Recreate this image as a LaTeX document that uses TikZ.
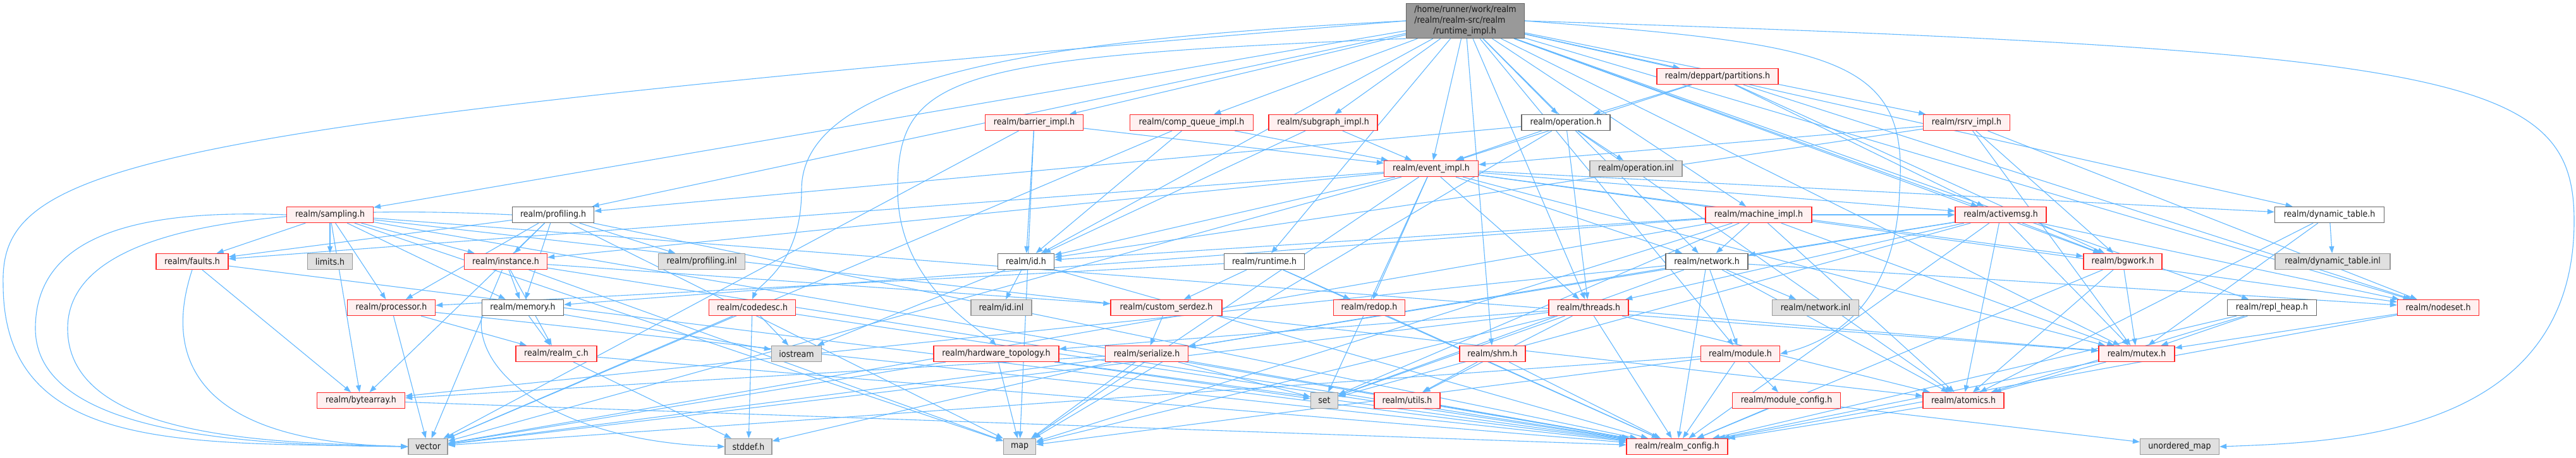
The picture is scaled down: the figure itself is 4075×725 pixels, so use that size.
\documentclass[tikz,border=0pt]{standalone}
\usepackage{fontspec}
\setmainfont{DejaVu Sans}[FakeStretch=0.9]
\usetikzlibrary{arrows.meta,backgrounds}
\definecolor{edgeblue}{RGB}{99,184,255}
\definecolor{redfill}{RGB}{255,240,240}
\definecolor{redline}{RGB}{255,40,40}
\definecolor{grayfill}{RGB}{224,224,224}
\definecolor{grayline}{RGB}{153,153,153}
\definecolor{darkline}{RGB}{102,102,102}
\definecolor{rootfill}{RGB}{153,153,153}
\tikzset{
  box/.style={rectangle, minimum height=25pt, inner sep=2pt, line width=1.3pt,
    font=\fontsize{14}{17}\selectfont, text=black!90},
  redbox/.style={box, draw=redline, fill=redfill},
  graybox/.style={box, draw=grayline, fill=grayfill},
  whitebox/.style={box, draw=darkline, fill=white},
  rootbox/.style={box, draw=darkline, fill=rootfill, align=left, minimum height=55pt},
  edge/.style={draw=edgeblue, line width=1.1pt, -{Triangle[length=11pt,width=8pt]}}
}
\begin{document}
\begin{tikzpicture}[x=1pt,y=-1pt]
\useasboundingbox (0,0) rectangle (4075,725);
% row 0
\node[rootbox, minimum width=187pt] (root) at (2318,33) {/home/runner/work/realm\\/realm/realm-src/realm\\\hspace*{30pt}/runtime\_impl.h};
% row 1
\node[redbox, minimum width=192pt] (partitions) at (2717,121) {realm/deppart/partitions.h};
% row 2
\node[redbox, minimum width=155pt] (barrier) at (1636,194) {realm/barrier\_impl.h};
\node[redbox, minimum width=195pt] (compq) at (1885,194) {realm/comp\_queue\_impl.h};
\node[redbox, minimum width=172pt] (subgraph) at (2093,194) {realm/subgraph\_impl.h};
\node[whitebox, minimum width=140pt] (operation) at (2477,194) {realm/operation.h};
\node[redbox, minimum width=137pt] (rsrv) at (3111,194) {realm/rsrv\_impl.h};
% row 3
\node[redbox, minimum width=149pt] (event) at (2264,267) {realm/event\_impl.h};
\node[graybox, minimum width=146pt] (opinl) at (2588,267) {realm/operation.inl};
% row 4
\node[redbox, minimum width=137pt] (sampling) at (522,340) {realm/sampling.h};
\node[whitebox, minimum width=129pt] (profiling) at (875,340) {realm/profiling.h};
\node[redbox, minimum width=168pt] (machine) at (2782,340) {realm/machine\_impl.h};
\node[redbox, minimum width=144pt] (activemsg) at (3165,340) {realm/activemsg.h};
\node[whitebox, minimum width=173pt] (dyntable) at (3685,340) {realm/dynamic\_table.h};
% row 5
\node[redbox, minimum width=114pt] (faults) at (304,414) {realm/faults.h};
\node[graybox, minimum width=71pt] (limits) at (522,414) {limits.h};
\node[redbox, minimum width=131pt] (instance) at (800,414) {realm/instance.h};
\node[graybox, minimum width=137pt] (profinl) at (1110,414) {realm/profiling.inl};
\node[whitebox, minimum width=89pt] (id) at (1623,414) {realm/id.h};
\node[whitebox, minimum width=127pt] (runtime) at (2000,414) {realm/runtime.h};
\node[whitebox, minimum width=130pt] (network) at (2700,414) {realm/network.h};
\node[redbox, minimum width=124pt] (bgwork) at (3358,414) {realm/bgwork.h};
\node[graybox, minimum width=182pt] (dyninl) at (3690,414) {realm/dynamic\_table.inl};
% row 6
\node[redbox, minimum width=139pt] (processor) at (619,487) {realm/processor.h};
\node[whitebox, minimum width=129pt] (memory) at (827,487) {realm/memory.h};
\node[redbox, minimum width=137pt] (codedesc) at (1190,487) {realm/codedesc.h};
\node[graybox, minimum width=96pt] (idinl) at (1584,487) {realm/id.inl};
\node[redbox, minimum width=176pt] (serdez) at (1845,487) {realm/custom\_serdez.h};
\node[redbox, minimum width=113pt] (redop) at (2166,487) {realm/redop.h};
\node[redbox, minimum width=126pt] (threads) at (2513,487) {realm/threads.h};
\node[graybox, minimum width=137pt] (netinl) at (2872,487) {realm/network.inl};
\node[whitebox, minimum width=141pt] (replheap) at (3594,487) {realm/repl\_heap.h};
\node[redbox, minimum width=129pt] (nodeset) at (3857,487) {realm/nodeset.h};
% row 7
\node[redbox, minimum width=128pt] (realmc) at (880,560) {realm/realm\_c.h};
\node[graybox, minimum width=79pt] (iostream) at (1260,560) {iostream};
\node[redbox, minimum width=198pt] (hwtopo) at (1576,560) {realm/hardware\_topology.h};
\node[redbox, minimum width=131pt] (serialize) at (1814,560) {realm/serialize.h};
\node[redbox, minimum width=104pt] (shm) at (2361,560) {realm/shm.h};
\node[redbox, minimum width=125pt] (module) at (2753,560) {realm/module.h};
\node[redbox, minimum width=120pt] (mutex) at (3380,560) {realm/mutex.h};
% row 8
\node[redbox, minimum width=139pt] (bytearray) at (571,634) {realm/bytearray.h};
\node[graybox, minimum width=43pt] (set) at (2095,634) {set};
\node[redbox, minimum width=104pt] (utils) at (2226,634) {realm/utils.h};
\node[redbox, minimum width=171pt] (modconfig) at (2826,634) {realm/module\_config.h};
\node[redbox, minimum width=128pt] (atomics) at (3106,634) {realm/atomics.h};
% row 9
\node[graybox, minimum width=62pt] (vector) at (677,707) {vector};
\node[graybox, minimum width=74pt] (stddef) at (1184,707) {stddef.h};
\node[graybox, minimum width=51pt] (map) at (1613,707) {map};
\node[redbox, minimum width=160pt] (config) at (2653,707) {realm/realm\_config.h};
\node[graybox, minimum width=125pt] (umap) at (3448,707) {unordered\_map};

\begin{pgfonlayer}{background}
\foreach \a/\b in {
 root/sampling, root/profiling, root/barrier, root/compq, root/subgraph, root/event,
 root/operation, root/partitions, root/rsrv, root/machine, root/activemsg, root/dyntable,
 root/id, root/runtime, root/network, root/threads, root/shm, root/module,
 root/bgwork, root/replheap, root/nodeset, root/mutex,
 sampling/faults, sampling/limits, sampling/processor, sampling/bytearray, sampling/map,
 sampling/atomics, sampling/mutex, sampling/config, sampling/instance, sampling/memory,
 profiling/profinl, profiling/faults, profiling/bytearray, profiling/processor, profiling/memory,
 profiling/instance, profiling/map, profiling/config,
 instance/memory, instance/realmc, instance/vector, instance/map, instance/serdez, instance/config,
 faults/bytearray, faults/config,
 processor/vector, processor/realmc, processor/config,
 memory/realmc, memory/iostream,
 codedesc/iostream, codedesc/stddef, codedesc/vector, codedesc/config,
 realmc/stddef, realmc/config, bytearray/config,
 barrier/event, barrier/id, barrier/vector, barrier/map,
 compq/event, compq/id, compq/vector, subgraph/event, subgraph/id,
 event/id, event/nodeset, event/faults, event/network, event/mutex, event/redop, event/bgwork,
 event/dyntable, event/threads, event/vector, event/map, event/set, event/instance, event/activemsg,
 operation/event, operation/opinl, operation/profiling, operation/threads, operation/atomics, operation/map,
 partitions/operation, partitions/activemsg, partitions/event, partitions/nodeset, partitions/bgwork,
 rsrv/event, rsrv/id, rsrv/nodeset, rsrv/bgwork, rsrv/mutex,
 machine/id, machine/network, machine/activemsg, machine/mutex, machine/atomics, machine/vector,
 machine/map, machine/set, machine/memory,
 activemsg/network, activemsg/nodeset, activemsg/mutex, activemsg/atomics, activemsg/bgwork,
 activemsg/threads, activemsg/config, activemsg/serialize, activemsg/set,
 dyntable/dyninl, dyntable/mutex, dyntable/atomics,
 id/idinl, id/config, id/iostream,
 runtime/serdez, runtime/redop, runtime/processor, runtime/config,
 serdez/serialize,
 serialize/bytearray, serialize/map, serialize/set, serialize/vector, serialize/stddef, serialize/config,
 hwtopo/map, hwtopo/vector, hwtopo/set, hwtopo/config,
 redop/config,
 threads/set, threads/config, threads/atomics, threads/mutex, threads/utils, threads/vector,
 threads/map, threads/hwtopo,
 shm/utils, shm/config,
 network/netinl, network/module, network/set, network/config, network/nodeset, network/atomics,
 network/bytearray, network/serialize,
 module/modconfig, module/config, module/vector, module/map,
 modconfig/config, modconfig/umap,
 utils/config, atomics/config, mutex/atomics, mutex/config,
 bgwork/atomics, bgwork/mutex, bgwork/config,
 nodeset/mutex, nodeset/config,
 replheap/mutex, replheap/config, replheap/atomics}
 {\draw[edge] (\a) -- (\b);}
% curved connectors routed around the sides
\draw[edge] (root.west) .. controls (200,200) and (0,260) .. (5,450) .. controls (5,720) and (300,700) .. (vector.west);
\draw[edge] (sampling.west) .. controls (200,330) and (56,380) .. (56,520) .. controls (56,690) and (400,705) .. (vector.west);
\draw[edge] (profiling.west) .. controls (500,325) and (107,340) .. (107,520) .. controls (107,700) and (450,700) .. (vector.west);
\draw[edge] (faults.south) .. controls (260,560) and (300,700) .. (vector.west);
\draw[edge] (memory.south west) .. controls (750,600) and (900,700) .. (stddef.west);
\draw[edge] (root.east) .. controls (3900,80) and (4072,120) .. (4072,350) .. controls (4072,690) and (3700,700) .. (umap.east);
\draw[edge] (root.south west) .. controls (1500,90) and (1420,120) .. (1420,300) .. controls (1420,450) and (1550,520) .. (hwtopo.north);
\draw[edge] (root.east) .. controls (2900,70) and (3020,90) .. (3005,300) .. controls (3000,480) and (2900,540) .. (module.east);
\draw[edge] (root.west) .. controls (1700,60) and (1268,110) .. (1268,300) .. controls (1268,420) and (1200,450) .. (codedesc.north);
\end{pgfonlayer}
\end{tikzpicture}
\end{document}
